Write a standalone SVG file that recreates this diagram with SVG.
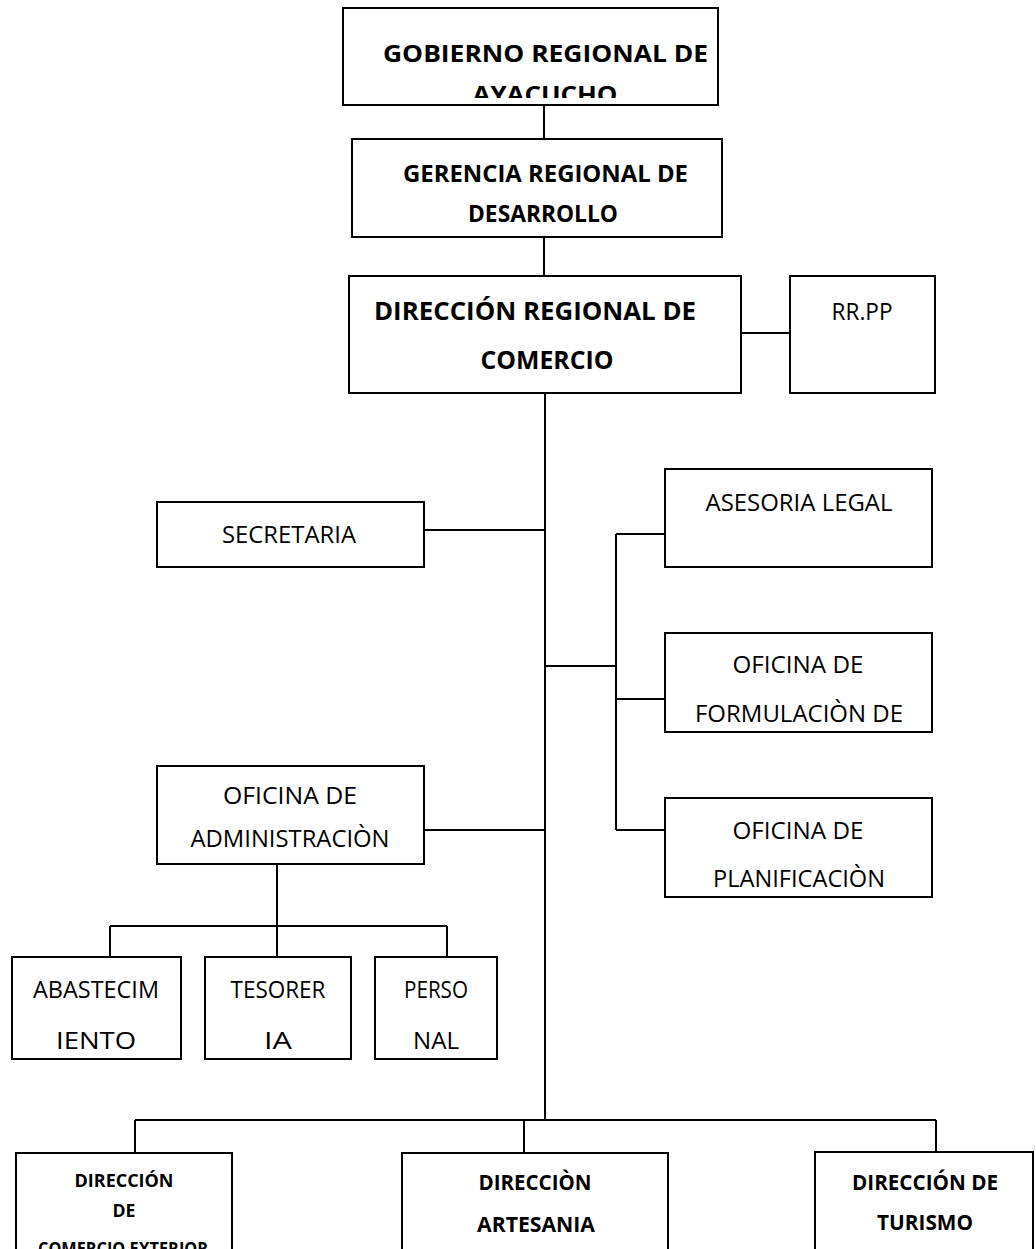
<svg xmlns="http://www.w3.org/2000/svg" width="1036" height="1249" viewBox="0 0 1036 1249">
<style>
rect.box{fill:#fff;stroke:#000;stroke-width:2}
.c line{stroke:#000;stroke-width:2;fill:none}
text{font-family:"Open Sans","Noto Sans","Liberation Sans",sans-serif;fill:#000;text-anchor:middle}
.b{font-weight:bold}
.r{font-weight:normal}
</style>
<defs>
<clipPath id="clipTop"><rect x="344" y="9" width="373" height="89"/></clipPath>
</defs>
<rect width="1036" height="1249" fill="#fff"/>
<g class="c" id="connectors">
<line x1="544" y1="105" x2="544" y2="139"/>
<line x1="544" y1="237" x2="544" y2="276"/>
<line x1="741" y1="333" x2="790" y2="333"/>
<line x1="545" y1="393" x2="545" y2="1120"/>
<line x1="424" y1="530" x2="545" y2="530"/>
<line x1="545" y1="666" x2="616" y2="666"/>
<line x1="616" y1="534" x2="616" y2="830"/>
<line x1="616" y1="534" x2="665" y2="534"/>
<line x1="616" y1="699" x2="665" y2="699"/>
<line x1="616" y1="830" x2="665" y2="830"/>
<line x1="424" y1="830" x2="545" y2="830"/>
<line x1="277" y1="864" x2="277" y2="926"/>
<line x1="110" y1="926" x2="447" y2="926"/>
<line x1="110" y1="926" x2="110" y2="957"/>
<line x1="277" y1="926" x2="277" y2="957"/>
<line x1="447" y1="926" x2="447" y2="957"/>
<line x1="135" y1="1120" x2="936" y2="1120"/>
<line x1="135" y1="1120" x2="135" y2="1153"/>
<line x1="524" y1="1120" x2="524" y2="1153"/>
<line x1="936" y1="1120" x2="936" y2="1152"/>
</g>
<g id="gobierno">
<rect class="box" x="343" y="8" width="375" height="97"/>
<text class="b" x="545.5" y="62" font-size="24" textLength="325" lengthAdjust="spacingAndGlyphs">GOBIERNO REGIONAL DE</text>
<text class="b" x="545" y="103" font-size="24" textLength="145" lengthAdjust="spacingAndGlyphs" clip-path="url(#clipTop)">AYACUCHO</text>
</g>
<g id="gerencia">
<rect class="box" x="352" y="139" width="370" height="98"/>
<text class="b" x="545.5" y="182" font-size="24" textLength="285" lengthAdjust="spacingAndGlyphs">GERENCIA REGIONAL DE</text>
<text class="b" x="543" y="222" font-size="24" textLength="150" lengthAdjust="spacingAndGlyphs">DESARROLLO</text>
</g>
<g id="direccion">
<rect class="box" x="349" y="276" width="392" height="117"/>
<text class="b" x="535" y="320" font-size="25" textLength="322" lengthAdjust="spacingAndGlyphs">DIRECCIÓN REGIONAL DE</text>
<text class="b" x="547" y="369" font-size="25" textLength="133" lengthAdjust="spacingAndGlyphs">COMERCIO</text>
</g>
<g id="rrpp">
<rect class="box" x="790" y="276" width="145" height="117"/>
<text class="r" x="862" y="320" font-size="24" textLength="61" lengthAdjust="spacingAndGlyphs">RR.PP</text>
</g>
<g id="secretaria">
<rect class="box" x="157" y="502" width="267" height="65"/>
<text class="r" x="289" y="543" font-size="23" textLength="134" lengthAdjust="spacingAndGlyphs">SECRETARIA</text>
</g>
<g id="asesoria">
<rect class="box" x="665" y="469" width="267" height="98"/>
<text class="r" x="799" y="511" font-size="23" textLength="187" lengthAdjust="spacingAndGlyphs">ASESORIA LEGAL</text>
</g>
<g id="formulacion">
<rect class="box" x="665" y="633" width="267" height="99"/>
<text class="r" x="798" y="673" font-size="23" textLength="131" lengthAdjust="spacingAndGlyphs">OFICINA DE</text>
<text class="r" x="799" y="722" font-size="23" textLength="208" lengthAdjust="spacingAndGlyphs">FORMULACIÒN DE</text>
</g>
<g id="planificacion">
<rect class="box" x="665" y="798" width="267" height="99"/>
<text class="r" x="798" y="839" font-size="23" textLength="131" lengthAdjust="spacingAndGlyphs">OFICINA DE</text>
<text class="r" x="799" y="887" font-size="23" textLength="172" lengthAdjust="spacingAndGlyphs">PLANIFICACIÒN</text>
</g>
<g id="administracion">
<rect class="box" x="157" y="766" width="267" height="98"/>
<text class="r" x="290" y="804" font-size="23" textLength="134" lengthAdjust="spacingAndGlyphs">OFICINA DE</text>
<text class="r" x="290" y="847" font-size="23" textLength="199" lengthAdjust="spacingAndGlyphs">ADMINISTRACIÒN</text>
</g>
<g id="abastecimiento">
<rect class="box" x="12" y="957" width="169" height="102"/>
<text class="r" x="96" y="998" font-size="23" textLength="126" lengthAdjust="spacingAndGlyphs">ABASTECIM</text>
<text class="r" x="96" y="1049" font-size="23" textLength="80" lengthAdjust="spacingAndGlyphs">IENTO</text>
</g>
<g id="tesoreria">
<rect class="box" x="205" y="957" width="146" height="102"/>
<text class="r" x="278" y="998" font-size="23" textLength="95" lengthAdjust="spacingAndGlyphs">TESORER</text>
<text class="r" x="278" y="1049" font-size="23" textLength="28" lengthAdjust="spacingAndGlyphs">IA</text>
</g>
<g id="personal">
<rect class="box" x="375" y="957" width="122" height="102"/>
<text class="r" x="436" y="998" font-size="23" textLength="64" lengthAdjust="spacingAndGlyphs">PERSO</text>
<text class="r" x="436" y="1049" font-size="23" textLength="46" lengthAdjust="spacingAndGlyphs">NAL</text>
</g>
<g id="comercio-exterior">
<rect class="box" x="16" y="1153" width="216" height="150"/>
<text class="b" x="124" y="1187" font-size="17" textLength="99" lengthAdjust="spacingAndGlyphs">DIRECCIÓN</text>
<text class="b" x="124" y="1217" font-size="17" textLength="23" lengthAdjust="spacingAndGlyphs">DE</text>
<text class="b" x="123" y="1255" font-size="17" textLength="170" lengthAdjust="spacingAndGlyphs">COMERCIO EXTERIOR</text>
</g>
<g id="artesania">
<rect class="box" x="402" y="1153" width="266" height="150"/>
<text class="b" x="535" y="1190" font-size="21" textLength="113" lengthAdjust="spacingAndGlyphs">DIRECCIÒN</text>
<text class="b" x="536" y="1232" font-size="21" textLength="118" lengthAdjust="spacingAndGlyphs">ARTESANIA</text>
</g>
<g id="turismo">
<rect class="box" x="815" y="1152" width="218" height="150"/>
<text class="b" x="925" y="1190" font-size="21" textLength="146" lengthAdjust="spacingAndGlyphs">DIRECCIÓN DE</text>
<text class="b" x="925" y="1230" font-size="21" textLength="96" lengthAdjust="spacingAndGlyphs">TURISMO</text>
</g>
</svg>
